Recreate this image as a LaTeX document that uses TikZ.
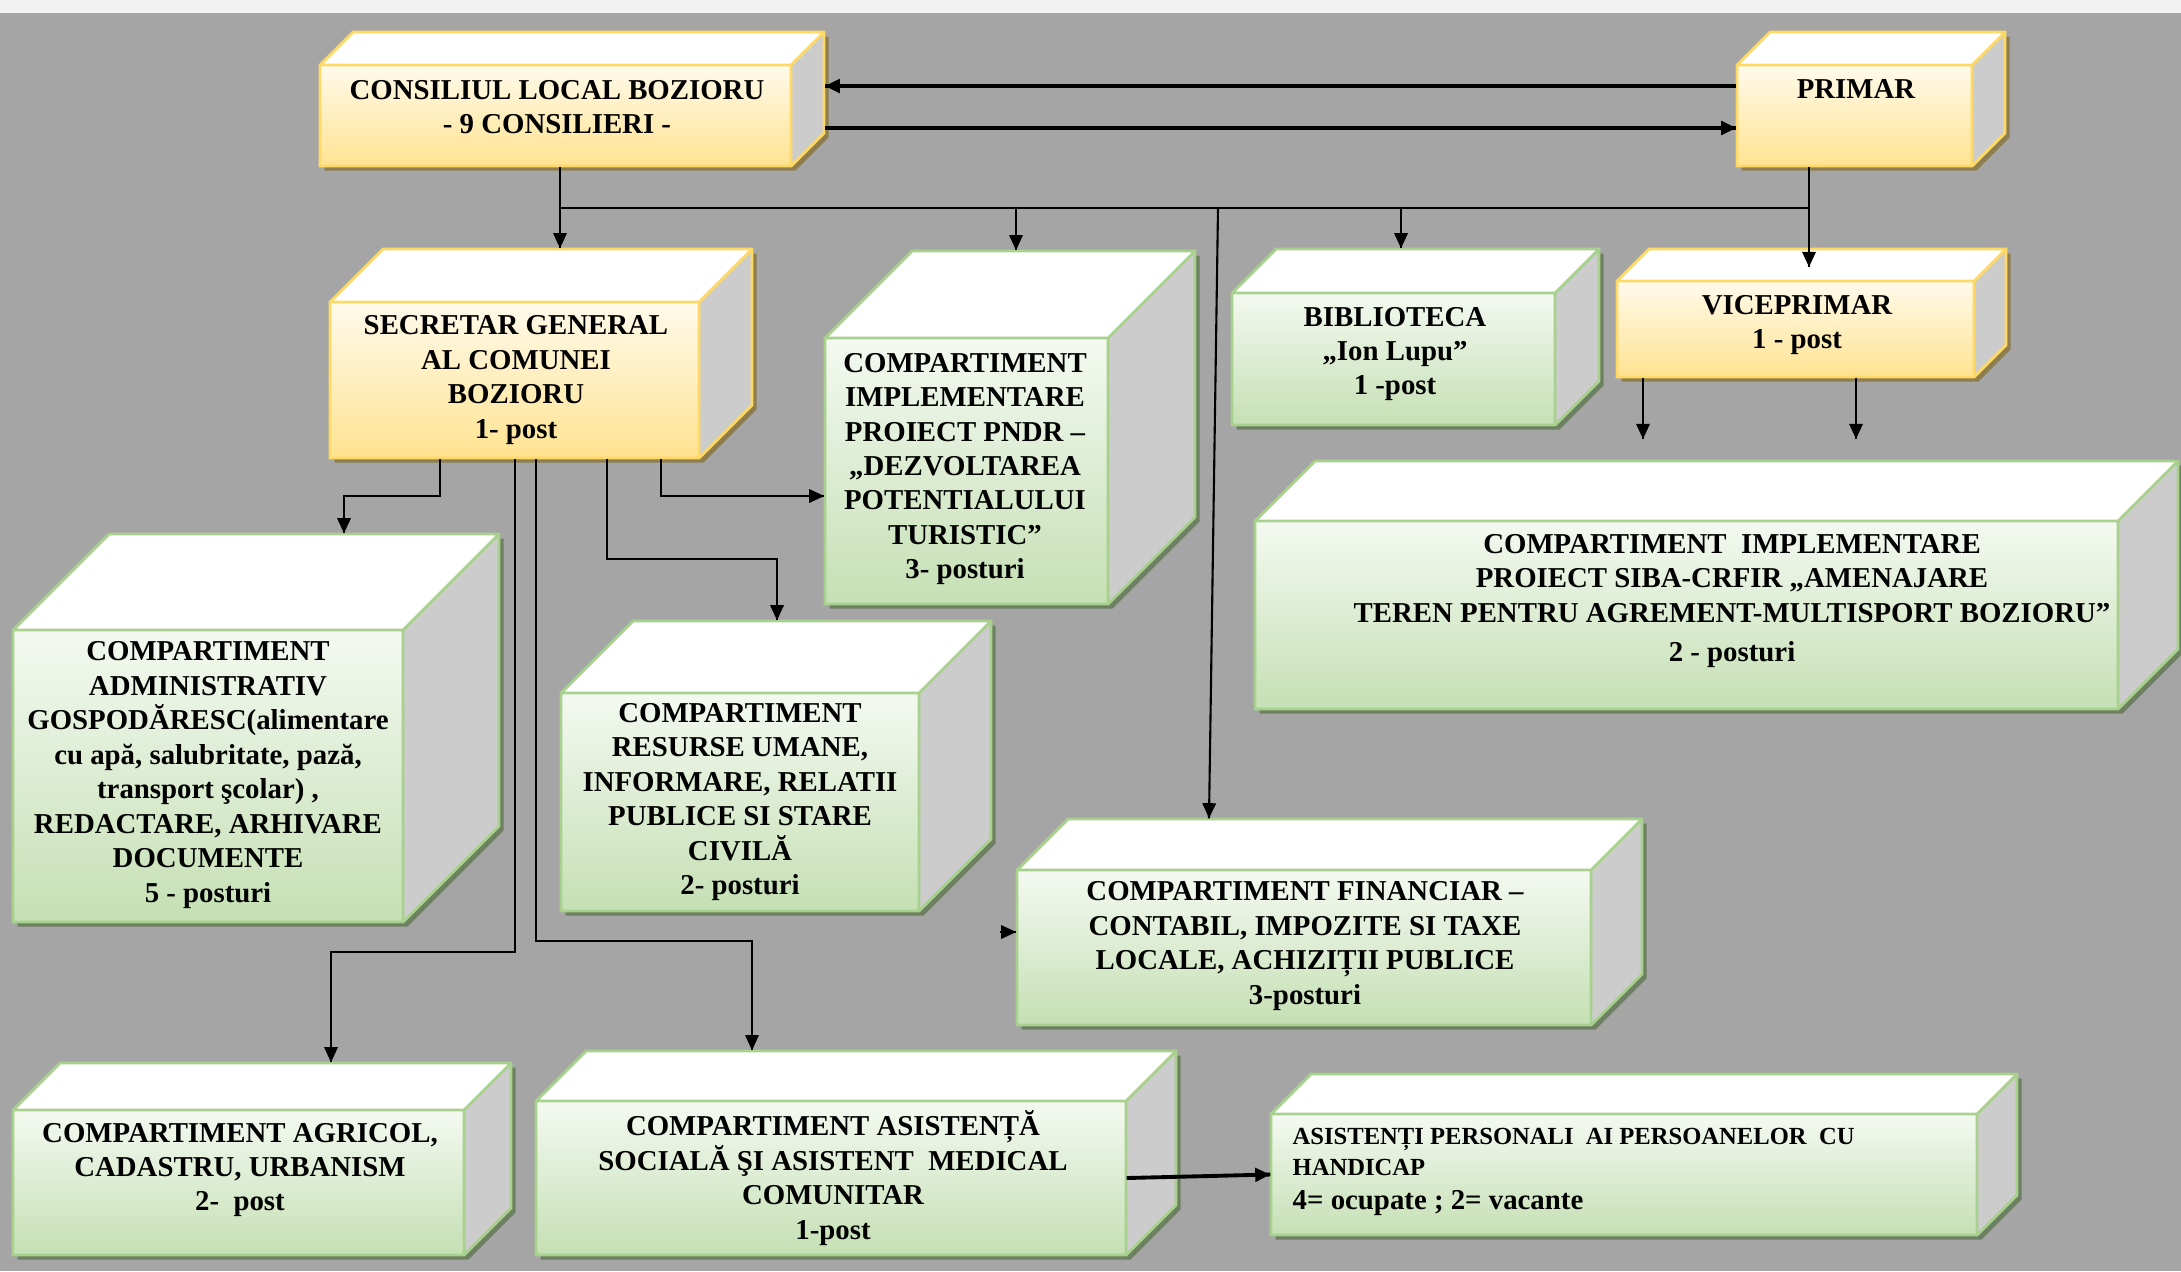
\documentclass[tikz,border=0pt]{standalone}
\usepackage{fontspec}
\setmainfont{Liberation Serif}
\usepackage{tikz}
\usetikzlibrary{decorations.markings,arrows.meta,fit}
\definecolor{bg}{HTML}{A5A5A5}
\definecolor{strip}{HTML}{F2F2F2}
\definecolor{side}{HTML}{CCCCCC}
\definecolor{yline}{HTML}{FFD966}
\definecolor{ytop}{HTML}{FFFAEB}
\definecolor{ybot}{HTML}{FFE391}
\definecolor{yshadow}{HTML}{8E7E4F}
\definecolor{gline}{HTML}{A9D18E}
\definecolor{gtop}{HTML}{F4F9F1}
\definecolor{gbot}{HTML}{C5E0B4}
\definecolor{gshadow}{HTML}{6E8062}
\tikzstyle{boxtext}=[align=center, inner sep=0pt, font=\bfseries\fontsize{8.2}{9.8}\selectfont]
\tikzstyle{arr}=[draw, line width=0.6pt,
    postaction={decorate, decoration={markings, mark=at position 1 with {\arrow{Triangle[length=4.3pt,width=3.8pt]}}}}]
\providecommand{\cube}[7]{%
  \fill[#2shadow, xshift=0.45mm, yshift=-0.45mm] (#3,#6) -- (#3,#4) -- ({#3+#7},{#4-#7}) -- ({#5+#7},{#4-#7}) -- ({#5+#7},{#6-#7}) -- (#5,#6) -- cycle;
  \shade[top color=#2top, bottom color=#2bot] (#3,#4) rectangle (#5,#6);
  \fill[white] (#3,#4) -- ({#3+#7},{#4-#7}) -- ({#5+#7},{#4-#7}) -- (#5,#4) -- cycle;
  \fill[side] (#5,#4) -- ({#5+#7},{#4-#7}) -- ({#5+#7},{#6-#7}) -- (#5,#6) -- cycle;
  \draw[#2line, line width=0.8pt] (#3,#6) -- (#3,#4) -- ({#3+#7},{#4-#7}) -- ({#5+#7},{#4-#7}) -- ({#5+#7},{#6-#7}) -- (#5,#6) -- cycle
    (#3,#4) -- (#5,#4) -- ({#5+#7},{#4-#7}) (#5,#4) -- (#5,#6);
  \node[fit={(#3,{#4-#7}) ({#5+#7},#6)}, inner sep=0pt] (#1) {};
  \node[fit={(#3,#4) (#5,#6)}, inner sep=0pt] (#1-f) {};
}

\begin{document}
\begin{tikzpicture}[x=0.1mm, y=-0.1mm, every edge/.style={arr}]
\useasboundingbox (0,0) rectangle (2181,1271);
\fill[strip] (0,0) rectangle (2181,13);
\fill[bg] (0,13) rectangle (2181,1271);

\cube{cons}{y}{320}{65}{791}{166}{33}
\cube{prim}{y}{1737}{65}{1972}{166}{33}
\cube{sec}{y}{330}{302}{699}{458}{53}
\cube{vice}{y}{1617}{281}{1974}{377}{32}
\cube{pndr}{g}{825}{338}{1108}{604}{87}
\cube{bib}{g}{1232}{293}{1555}{425}{44}
\cube{adm}{g}{13}{630}{403}{922}{96}
\cube{res}{g}{561}{693}{919}{911}{72}
\cube{siba}{g}{1255}{521}{2118}{709}{60}
\cube{fin}{g}{1017}{870}{1591}{1025}{51}
\cube{agr}{g}{13}{1110}{464}{1255}{47}
\cube{asa}{g}{536}{1101}{1126}{1255}{50}
\cube{ap}{g}{1271}{1114}{1977}{1235}{40}

\node[boxtext] (cons-t) at (557,107) {CONSILIUL LOCAL BOZIORU\\- 9 CONSILIERI -};
\node[boxtext] (prim-t) at (1856,89) {PRIMAR};
\node[boxtext] (sec-t) at (516,380) {SECRETAR GENERAL\\AL COMUNEI\\BOZIORU\\1- post};
\node[boxtext] (vice-t) at (1797,325) {VICEPRIMAR\\1 - post};
\node[boxtext] (pndr-t) at (965,469) {COMPARTIMENT\\IMPLEMENTARE\\PROIECT PNDR –\\„DEZVOLTAREA\\POTENTIALULUI\\TURISTIC”\\3- posturi};
\node[boxtext] (bib-t) at (1395,354) {BIBLIOTECA\\„Ion Lupu”\\1 -post};
\node[boxtext] (adm-t) at (208,775) {COMPARTIMENT\\ADMINISTRATIV\\GOSPODĂRESC(alimentare\\cu apă, salubritate, pază,\\transport şcolar) ,\\REDACTARE, ARHIVARE\\DOCUMENTE\\5 - posturi};
\node[boxtext] (res-t) at (740,802) {COMPARTIMENT\\RESURSE UMANE,\\INFORMARE, RELATII\\PUBLICE SI STARE\\CIVILĂ\\2- posturi};
\node[boxtext] (siba-t) at (1732,601) {COMPARTIMENT~ IMPLEMENTARE\\PROIECT SIBA-CRFIR „AMENAJARE\\TEREN PENTRU AGREMENT-MULTISPORT BOZIORU”\\[0.5mm]2 - posturi};
\node[boxtext] (fin-t) at (1305,946) {COMPARTIMENT FINANCIAR –\\CONTABIL, IMPOZITE SI TAXE\\LOCALE, ACHIZIȚII PUBLICE\\3-posturi};
\node[boxtext] (agr-t) at (240,1170) {COMPARTIMENT AGRICOL,\\CADASTRU, URBANISM\\2-~ post};
\node[boxtext] (asa-t) at (833,1178) {COMPARTIMENT ASISTENȚĂ\\SOCIALĂ ŞI ASISTENT~ MEDICAL\\COMUNITAR\\1-post};
\node[boxtext, align=left, anchor=west, font=\bfseries\fontsize{7}{8.8}\selectfont] (ap-t) at (1292,1172)
  {ASISTENȚI PERSONALI~ AI PERSOANELOR~ CU\\HANDICAP\\[0.3mm]{\fontsize{8.2}{9.8}\selectfont 4= ocupate ; 2= vacante}};

\coordinate (y1) at (0,86);
\coordinate (y2) at (0,128);
\coordinate (bus-l) at (560,208);
\coordinate (bus-r) at (1809,208);
\coordinate (bus-p) at (1016,208);
\coordinate (bus-f) at (1218,208);
\coordinate (bus-b) at (1401,208);
\coordinate (fin-in) at (1209,0);
\coordinate (vice-in) at (1809,267);
\coordinate (v1) at (1643,439);
\coordinate (v2) at (1856,439);
\coordinate (k1) at (440,496);
\coordinate (k2) at (344,496);
\coordinate (k3) at (661,496);
\coordinate (k4) at (607,559);
\coordinate (k5) at (777,559);
\coordinate (k6) at (515,952);
\coordinate (k7) at (331,952);
\coordinate (k8) at (536,941);
\coordinate (k9) at (752,941);
\coordinate (fin-a) at (1000,932);

\draw[line width=0.6pt] (bus-l) -- (bus-r);
\path
(y1 -| prim.west) edge[line width=1.1pt] (y1 -| cons.east)
(y2 -| cons.east) edge[line width=1.1pt] (y2 -| prim.west)
(bus-l |- cons.south) edge (bus-l |- sec.north)
(bus-p) edge (bus-p |- pndr.north)
(bus-b) edge (bus-b |- bib.north)
(bus-f) edge (fin-in |- fin.north)
(bus-r |- prim.south) edge (vice-in)
(v1 |- vice.south) edge (v1)
(v2 |- vice.south) edge (v2)
(fin-a) edge (fin-a -| fin.west)
(asa-f.east) edge[line width=1.1pt] (ap-f.west)
;
\draw[arr] (k1 |- sec-f.south) -- (k1) -- (k2) -- (k2 |- adm.north);
\draw[arr] (k3 |- sec-f.south) -- (k3) -- (k3 -| pndr.west);
\draw[arr] (k4 |- sec-f.south) -- (k4) -- (k5) -- (k5 |- res.north);
\draw[arr] (k6 |- sec-f.south) -- (k6) -- (k7) -- (k7 |- agr.north);
\draw[arr] (k8 |- sec-f.south) -- (k8) -- (k9) -- (k9 |- asa.north);
\end{tikzpicture}
\end{document}
